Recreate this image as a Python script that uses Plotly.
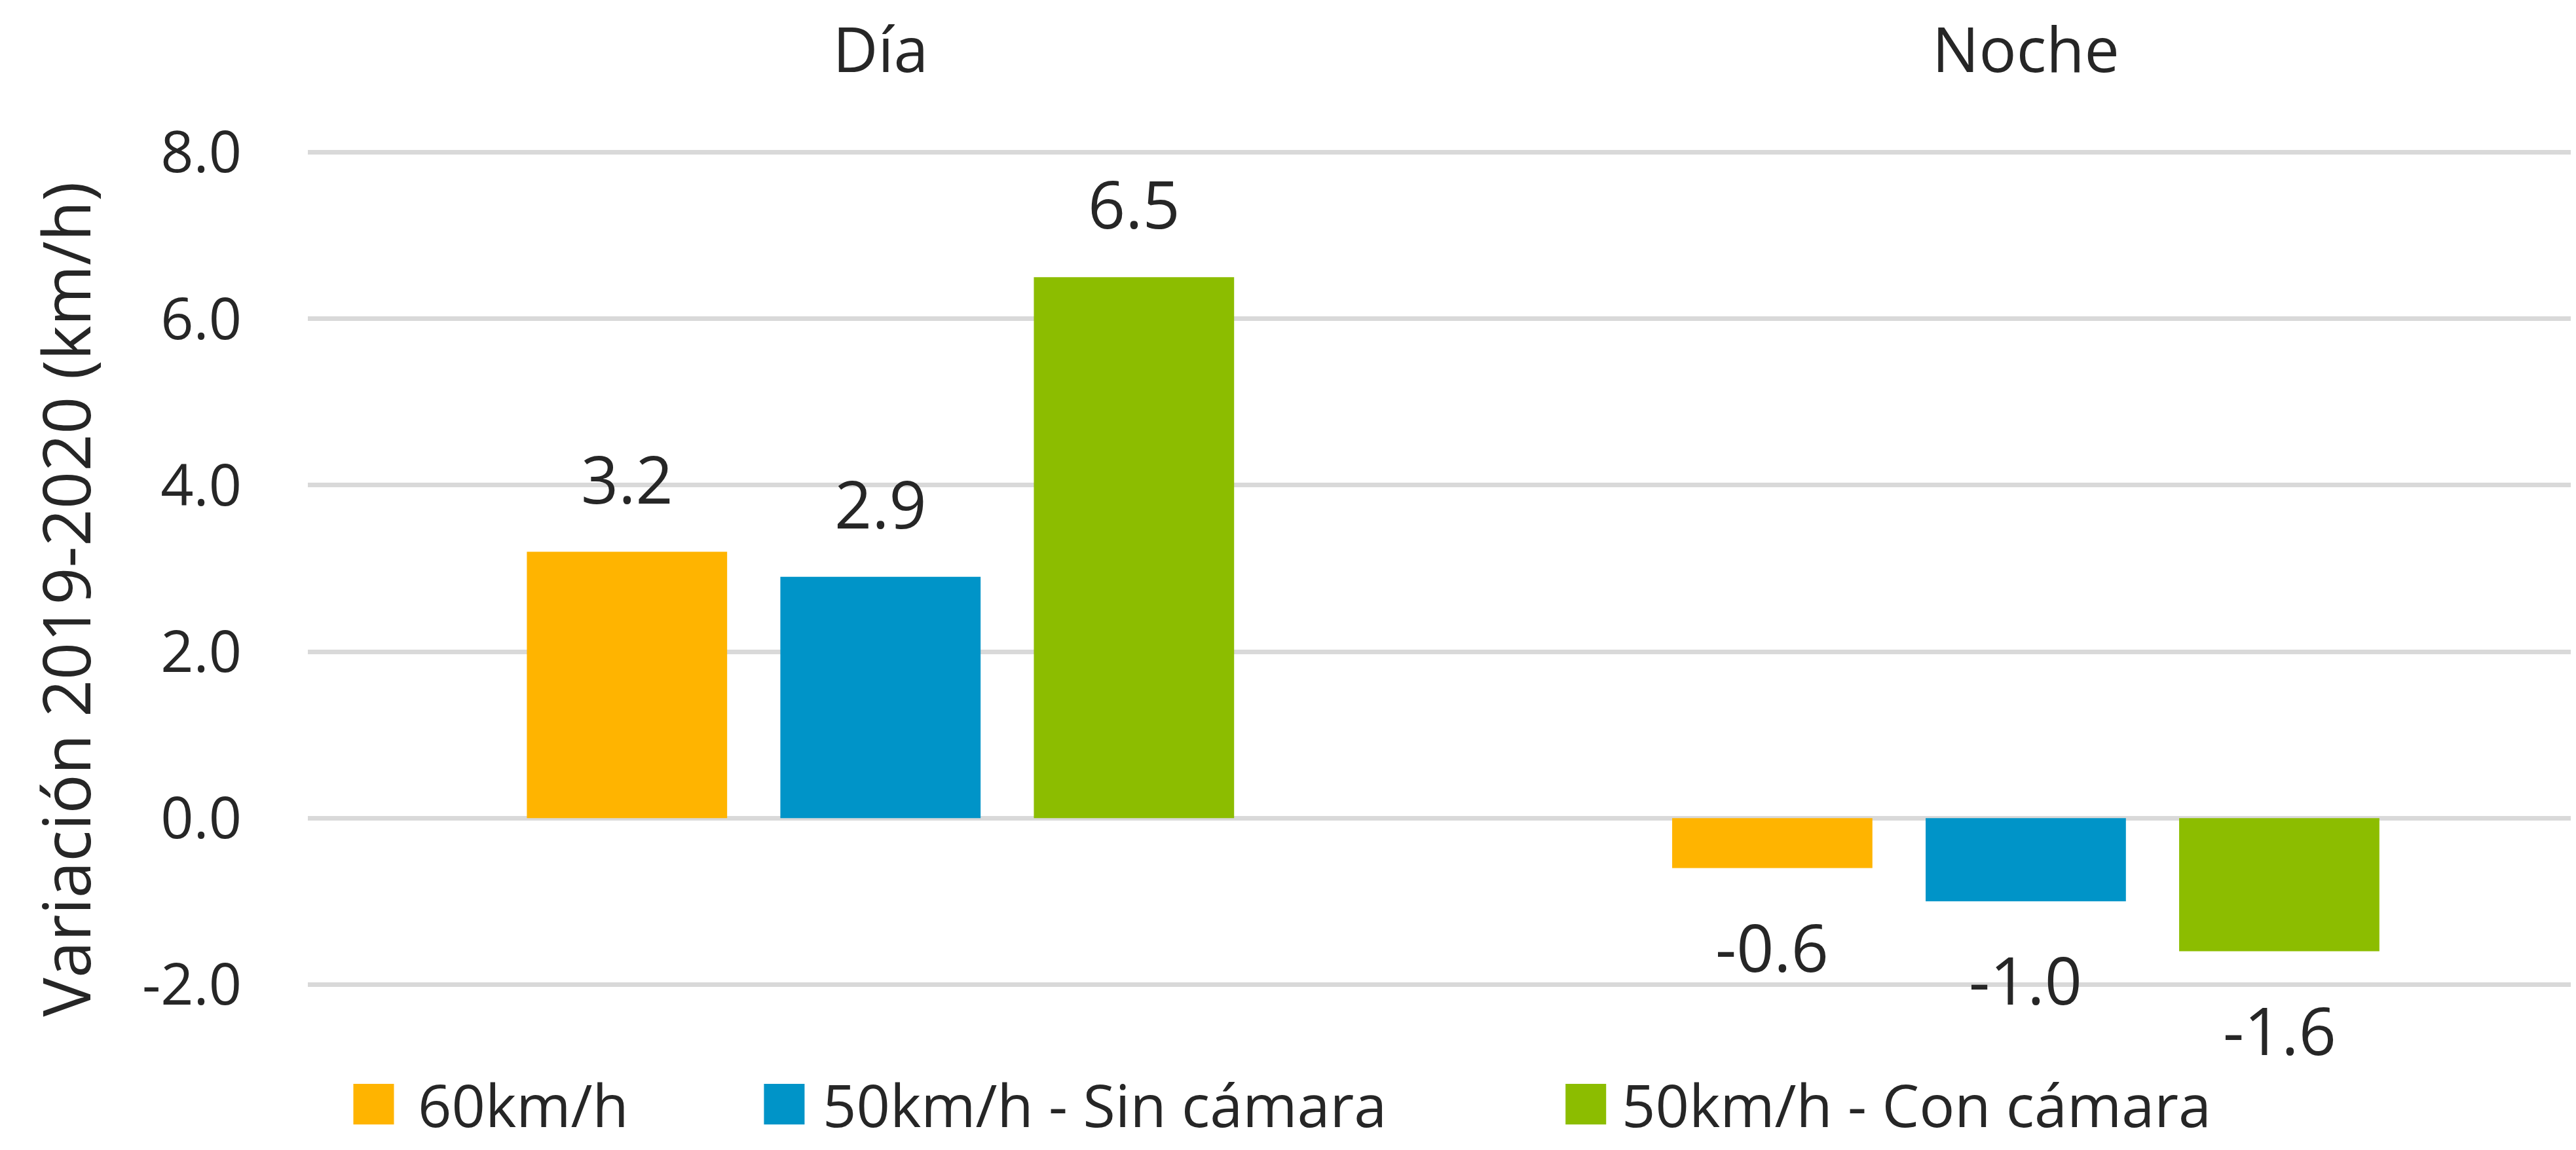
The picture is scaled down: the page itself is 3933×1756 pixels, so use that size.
import plotly.graph_objects as go

# ---------------- data ----------------
categories = ["Día", "Noche"]
series_names = ["60km/h", "50km/h - Sin cámara", "50km/h - Con cámara"]
values_60 = [3.2, -0.6]
values_sin_camara = [2.9, -1.0]
values_con_camara = [6.5, -1.6]
y_tick_values = [-2, 0, 2, 4, 6, 8]
y_tick_labels = ["-2.0", "0.0", "2.0", "4.0", "6.0", "8.0"]
y_title = "Variación 2019-2020 (km/h)"

series_values = [values_60, values_sin_camara, values_con_camara]
colors = ["#FFB400", "#0094C8", "#8CBD00"]

# ---------------- layout constants ----------------
W, H = 3933, 1756
M_L, M_R, M_T, M_B = 461.5, 0, 222, 258
X_RANGE = [-0.5, 1.485]
Y_RANGE = [-2.02, 8.02]
BARGAP = 0.336
BARGROUPGAP = 0.21
FONT = "Open Sans"
TXT = "#262626"

plot_w = W - M_L - M_R
cat_px = plot_w / (X_RANGE[1] - X_RANGE[0])
slot_px = cat_px * (1 - BARGAP) / len(series_names)

fig = go.Figure()
for name, vals, col in zip(series_names, series_values, colors):
    fig.add_trace(go.Bar(
        name=name, x=categories, y=vals,
        marker=dict(color=col, line=dict(width=0)),
        showlegend=False,
    ))

annotations = []
# data labels
for k, vals in enumerate(series_values):
    for cat, v in zip(categories, vals):
        annotations.append(dict(
            x=cat, y=v, xref="x", yref="y",
            text=f"{v:.1f}", showarrow=False,
            xshift=(k - (len(series_names) - 1) / 2) * slot_px,
            yshift=43 if v >= 0 else -49,
            yanchor="bottom" if v >= 0 else "top",
            font=dict(family=FONT, size=100, color=TXT),
        ))

# y-axis title
annotations.append(dict(
    x=-0.107, y=0.4632, xref="paper", yref="paper",
    text=y_title, textangle=-90, showarrow=False,
    xanchor="center", yanchor="middle",
    font=dict(family=FONT, size=100, color=TXT),
))

# custom legend (large square swatches)
plot_h = H - M_T - M_B
legend_sq_px = [531, 1158, 2382]
legend_txt_px = [628, 1246, 2466]
legend_y = (H - M_B - 1678) / plot_h
shapes = []
for name, col, sx, tx in zip(series_names, colors, legend_sq_px, legend_txt_px):
    shapes.append(dict(
        type="rect", xref="paper", yref="paper",
        xsizemode="pixel", ysizemode="pixel",
        xanchor=(sx - M_L) / plot_w, yanchor=legend_y,
        x0=0, x1=62, y0=-31, y1=31,
        fillcolor=col, line=dict(width=0),
    ))
    annotations.append(dict(
        x=(tx - M_L) / plot_w, y=legend_y, xref="paper", yref="paper",
        text=name, showarrow=False, xanchor="left", yanchor="middle",
        font=dict(family=FONT, size=90, color=TXT),
    ))

fig.update_layout(
    width=W, height=H,
    margin=dict(l=M_L, r=M_R, t=M_T, b=M_B, autoexpand=False),
    paper_bgcolor="white", plot_bgcolor="white",
    barmode="group", bargap=BARGAP, bargroupgap=BARGROUPGAP,
    font=dict(family=FONT, color=TXT),
    annotations=annotations, shapes=shapes,
    showlegend=False,
)
fig.update_xaxes(
    side="top", range=X_RANGE, showgrid=False, showline=False, zeroline=False,
    ticks="", ticklabelstandoff=100,
    tickfont=dict(family=FONT, size=95, color=TXT),
)
fig.update_yaxes(
    range=Y_RANGE, tickmode="array", tickvals=y_tick_values, ticktext=y_tick_labels,
    showgrid=True, gridcolor="#D9D9D9", gridwidth=7,
    zeroline=False, showline=False, ticks="", ticklabelstandoff=100,
    tickfont=dict(family=FONT, size=88, color=TXT),
)

fig.write_html("out.html")
